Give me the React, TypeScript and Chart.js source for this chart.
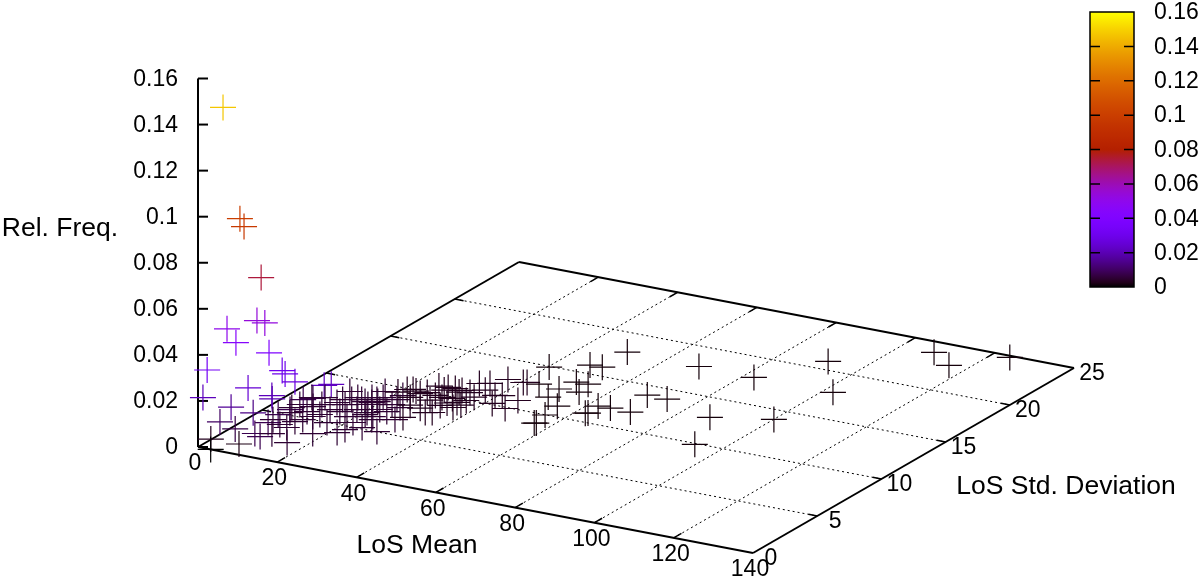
import React, { useEffect, useRef } from "react";
import { Chart, registerables } from "chart.js";

Chart.register(...registerables);

const losMean = [
  4.4, 8.6, 9.7, 12.3, 4.5, 10.5, 12.0, 6.2, 12.8, 1.4, 14.3, 15.2, 17.4, 9.0, 13.0, 13.4, 0.6, 20.3, 21.3, 5.3, 9.8, 3.5, 6.4, 2.1, 3.2, 8.3,
  12.4, 14.4, 11.3, 10.6, 11.2, 10.4, 11.9,
  14.2, 19.2, 13.4, 21.1, 8.6, 9.1, 13.3, 16.5, 15.5, 15.6, 17.3, 17.8, 20.5, 22.1, 22.1, 9.0, 11.9, 13.8, 9.9, 15.5, 20.2, 25.4, 12.3, 14.6, 22.0, 21.6, 24.5, 25.1, 26.9, 28.5, 32.6, 19.2, 22.0, 20.5, 22.9, 22.6, 24.8, 27.7, 25.9, 27.9, 26.6, 25.9, 32.1, 25.7, 29.1,
  19.0, 17.7, 9.1, 12.8, 16.2, 25.9, 11.6, 14.3, 21.0,
  23.0, 24.1, 26.2, 31.4, 35.3, 34.0, 26.8, 27.8, 30.3, 32.2, 30.1, 31.8, 33.7, 35.9, 34.5, 36.7, 37.6, 34.5, 37.8, 34.7, 36.7, 41.6, 43.7, 47.8, 38.8, 42.7, 47.6, 43.4, 43.0,
  44.7, 41.0, 56.6, 57.0, 50.7, 55.4, 50.1, 51.1, 54.0, 54.9, 56.0, 48.1, 51.1, 66.1, 63.1, 63.5, 63.0, 71.2, 50.9, 68.8, 73.9,
  69.2, 83.2, 88.0, 94.0, 92.0, 103.1, 100.8, 109.1, 116.2, 125.1,
  22.1, 25.2, 27.9, 30.2, 33.7, 38.2, 35.0, 38.3, 31.6, 28.7, 38.0, 30.8,
];
const losStd = [
  0.59, 0.61, 0.59, 1.12, 0.87, 1.35, 1.5, 1.04, 1.58, 0.28, 2.14, 2.09, 2.18, 1.12, 1.74, 1.64, 0.2, 3.56, 3.8, 0.94, 1.27, 0.63, 0.92, 0.35, 0, 0.63,
  0.6, 0.39, 1.97, 2.97, 3.71, 4.98, 5.28,
  2.53, 1.01, 1.62, 2.42, 4.65, 6.06, 5.54, 5.19, 6.04, 6.45, 6.63, 6.95, 6.68, 6.71, 7.11, 3.06, 2.7, 3.29, 4.1, 4.15, 3.81, 2.99, 5.16, 3.65, 4.81, 5.71, 5.6, 4.32, 5.31, 3.98, 3.87, 6.82, 6.44, 7.22, 6.93, 7.44, 5.36, 4.98, 6.16, 6.09, 6.9, 7.5, 5.43, 8.02, 6.75,
  5.18, 5.99, 5.12, 4.54, 4.49, 3.45, 6.31, 7.41, 8.09,
  9.19, 9.31, 8.44, 6.27, 7.34, 7.2, 9.03, 9.27, 9.13, 9.06, 10.19, 10.22, 10.16, 10.1, 9.16, 8.84, 8.25, 8.21, 9.22, 11.2, 11.41, 10.29, 9.42, 9.16, 12.16, 12.15, 10.22, 12.23, 10.42,
  12.76, 14.69, 8.71, 8.75, 11.62, 10.88, 12.65, 13.69, 13.71, 12.73, 9.74, 15.68, 15.71, 11.71, 11.68, 10.77, 10.71, 11.69, 17.72, 13.75, 13.72,
  17.65, 17.61, 12.7, 9.67, 20.67, 17.62, 13.73, 23.64, 22.61, 24.6,
  8.75, 9.2, 10.15, 9.85, 9.93, 9.71, 8.59, 8.65, 7.55, 7.66, 10.64, 8.56,
];
const relFreq = [
  0.147, 0.1, 0.097, 0.074, 0.05, 0.054, 0.053, 0.044, 0.04, 0.033, 0.031, 0.03, 0.027, 0.025, 0.021, 0.02, 0.021, 0.022, 0.022, 0.016, 0.014, 0.01, 0.007, 0.003, 0, 0.002,
  0.008, 0.008, 0.008, 0.008, 0.008, 0.008, 0.008,
  0.005, 0.005, 0.005, 0.005, 0.005, 0.005, 0.005, 0.005, 0.005, 0.005, 0.005, 0.005, 0.005, 0.005, 0.005, 0.005, 0.005, 0.005, 0.005, 0.005, 0.005, 0.005, 0.005, 0.005, 0.005, 0.005, 0.005, 0.005, 0.005, 0.005, 0.005, 0.005, 0.005, 0.005, 0.005, 0.005, 0.005, 0.005, 0.005, 0.005, 0.005, 0.005, 0.005, 0.005, 0.005,
  0.005, 0.005, 0.005, 0.005, 0.005, 0.005, 0.005, 0.005, 0.005,
  0.003, 0.003, 0.003, 0.003, 0.003, 0.003, 0.003, 0.003, 0.003, 0.003, 0.003, 0.003, 0.003, 0.003, 0.003, 0.003, 0.003, 0.003, 0.003, 0.003, 0.003, 0.003, 0.003, 0.003, 0.003, 0.003, 0.003, 0.003, 0.003,
  0.001, 0.001, 0.001, 0.001, 0.001, 0.001, 0.001, 0.001, 0.001, 0.001, 0.001, 0.001, 0.001, 0.001, 0.001, 0.001, 0.001, 0.001, 0.001, 0.001, 0.001,
  0.001, 0.001, 0.001, 0.001, 0.001, 0.001, 0.001, 0.001, 0.001, 0.001,
  0.003, 0.003, 0.003, 0.003, 0.003, 0.003, 0.003, 0.003, 0.003, 0.003, 0.003, 0.003,
];

const meanTicks = [0, 20, 40, 60, 80, 100, 120, 140];
const stdTicks = [0, 5, 10, 15, 20, 25];
const freqTicks = [0, 0.02, 0.04, 0.06, 0.08, 0.1, 0.12, 0.14, 0.16];
const MEAN_MAX = 140;
const STD_MAX = 25;
const FREQ_MAX = 0.16;

const TICK_FONT = '23px "Liberation Sans"';
const TITLE_FONT = '26.5px "Liberation Sans"';

// The view of the 3D box on the page: a plain axonometric projection.
const project = (m: number, s: number, f: number) => ({
  x: 198 + m * (555 / 140) + s * (321 / 25),
  y: 447 + m * (106 / 140) - s * (185 / 25) - f * (368.5 / 0.16),
});

// gnuplot's default pm3d palette (rgbformulae 7,5,15)
const palette = (t: number) => {
  const c = Math.max(0, Math.min(1, t));
  const r = Math.round(255 * Math.sqrt(c));
  const g = Math.round(255 * c * c * c);
  const b = Math.round(255 * Math.max(0, Math.sin(2 * Math.PI * c)));
  return `rgb(${r},${g},${b})`;
};

const seg = (a: { x: number; y: number }, b: { x: number; y: number }, width: number, dash: number[] = []) => ({
  type: "scatter" as const,
  data: [a, b],
  showLine: true,
  borderColor: "#000",
  borderWidth: width,
  borderDash: dash,
  pointRadius: 0,
  order: dash.length ? 3 : 2,
  clip: false as any,
});

const CB = { left: 1090, right: 1134, top: 12, bottom: 287 };

const textPlugin = {
  id: "labels3d",
  afterDatasetsDraw(chart: any) {
    const ctx = chart.ctx as CanvasRenderingContext2D;
    const px = (p: { x: number; y: number }) => ({
      x: chart.scales.x.getPixelForValue(p.x),
      y: chart.scales.y.getPixelForValue(p.y),
    });
    ctx.save();
    ctx.fillStyle = "#000";
    ctx.textBaseline = "middle";
    ctx.font = TICK_FONT;
    // z axis
    ctx.textAlign = "right";
    freqTicks.forEach((f) => {
      const p = px(project(0, 0, f));
      ctx.fillText(String(f), 178, p.y + 1);
    });
    // mean axis
    ctx.textAlign = "center";
    meanTicks.forEach((m) => {
      const p = px(project(m, 0, 0));
      ctx.fillText(String(m), p.x - 3, p.y + 17);
    });
    // std axis
    stdTicks.forEach((s) => {
      const p = px(project(MEAN_MAX, s, 0));
      ctx.fillText(String(s), p.x + 18, p.y + 6);
    });
    // titles
    ctx.font = TITLE_FONT;
    ctx.fillText("Rel. Freq.", 60, 229);
    ctx.fillText("LoS Mean", 417, 546);
    ctx.fillText("LoS Std. Deviation", 1066, 487);

    // colour box
    const grad = ctx.createLinearGradient(0, CB.bottom, 0, CB.top);
    for (let i = 0; i <= 64; i++) grad.addColorStop(i / 64, palette(i / 64));
    ctx.fillStyle = grad;
    ctx.fillRect(CB.left, CB.top, CB.right - CB.left, CB.bottom - CB.top);
    ctx.strokeStyle = "#000";
    ctx.lineWidth = 1.5;
    ctx.strokeRect(CB.left, CB.top, CB.right - CB.left, CB.bottom - CB.top);
    ctx.fillStyle = "#000";
    ctx.textAlign = "left";
    ctx.font = TICK_FONT;
    freqTicks.forEach((f) => {
      const y = CB.bottom - (f / FREQ_MAX) * (CB.bottom - CB.top);
      if (f > 0 && f < FREQ_MAX) {
        ctx.beginPath();
        ctx.moveTo(CB.left, y);
        ctx.lineTo(CB.left + 10, y);
        ctx.moveTo(CB.right - 10, y);
        ctx.lineTo(CB.right, y);
        ctx.stroke();
      }
      ctx.fillText(String(f), 1154, y + 1);
    });
    ctx.restore();
  },
};

export default function App() {
  const ref = useRef<HTMLCanvasElement>(null);
  useEffect(() => {
    document.body.style.margin = "0";
    const lines: any[] = [];
    // grid
    meanTicks.slice(1, -1).forEach((m) => lines.push(seg(project(m, 0, 0), project(m, STD_MAX, 0), 1, [2, 3])));
    stdTicks.slice(1, -1).forEach((s) => lines.push(seg(project(0, s, 0), project(MEAN_MAX, s, 0), 1, [2, 3])));
    // box
    lines.push(seg(project(0, 0, 0), project(MEAN_MAX, 0, 0), 2));
    lines.push(seg(project(MEAN_MAX, 0, 0), project(MEAN_MAX, STD_MAX, 0), 2));
    lines.push(seg(project(MEAN_MAX, STD_MAX, 0), project(0, STD_MAX, 0), 2));
    lines.push(seg(project(0, STD_MAX, 0), project(0, 0, 0), 2));
    lines.push(seg(project(0, 0, 0), project(0, 0, FREQ_MAX), 2));
    // ticks
    meanTicks.slice(1, -1).forEach((m) => {
      lines.push(seg(project(m, 0, 0), project(m, 0.6, 0), 1.5));
      lines.push(seg(project(m, STD_MAX, 0), project(m, STD_MAX - 0.6, 0), 1.5));
    });
    stdTicks.slice(1, -1).forEach((s) => {
      lines.push(seg(project(0, s, 0), project(2.2, s, 0), 1.5));
      lines.push(seg(project(MEAN_MAX, s, 0), project(MEAN_MAX - 2.2, s, 0), 1.5));
    });
    freqTicks.forEach((f) => {
      const a = project(0, 0, f);
      lines.push(seg(a, { x: a.x + 10, y: a.y }, 2));
    });

    const chart = new Chart(ref.current as HTMLCanvasElement, {
      type: "scatter",
      data: {
        datasets: [
          {
            data: losMean.map((m, i) => project(m, losStd[i], relFreq[i])),
            pointStyle: "cross",
            pointRadius: 13,
            pointBorderWidth: 1.2,
            pointBorderColor: relFreq.map((f) => palette(f / FREQ_MAX)),
            pointBackgroundColor: "transparent",
            showLine: false,
            order: 1,
            clip: false as any,
          },
          ...lines,
        ],
      },
      options: {
        animation: false,
        responsive: false,
        layout: { padding: 0, autoPadding: false },
        events: [],
        plugins: { legend: { display: false }, tooltip: { enabled: false } },
        scales: {
          x: { type: "linear", min: 0, max: 1200, display: false },
          y: { type: "linear", min: 0, max: 582, reverse: true, display: false },
        },
      },
      plugins: [textPlugin as any],
    });
    return () => chart.destroy();
  }, []);
  return (
    <div style={{ width: 1200, height: 582, position: "relative", background: "#fff" }}>
      <canvas ref={ref} width={1200} height={582} style={{ display: "block" }} />
    </div>
  );
}
